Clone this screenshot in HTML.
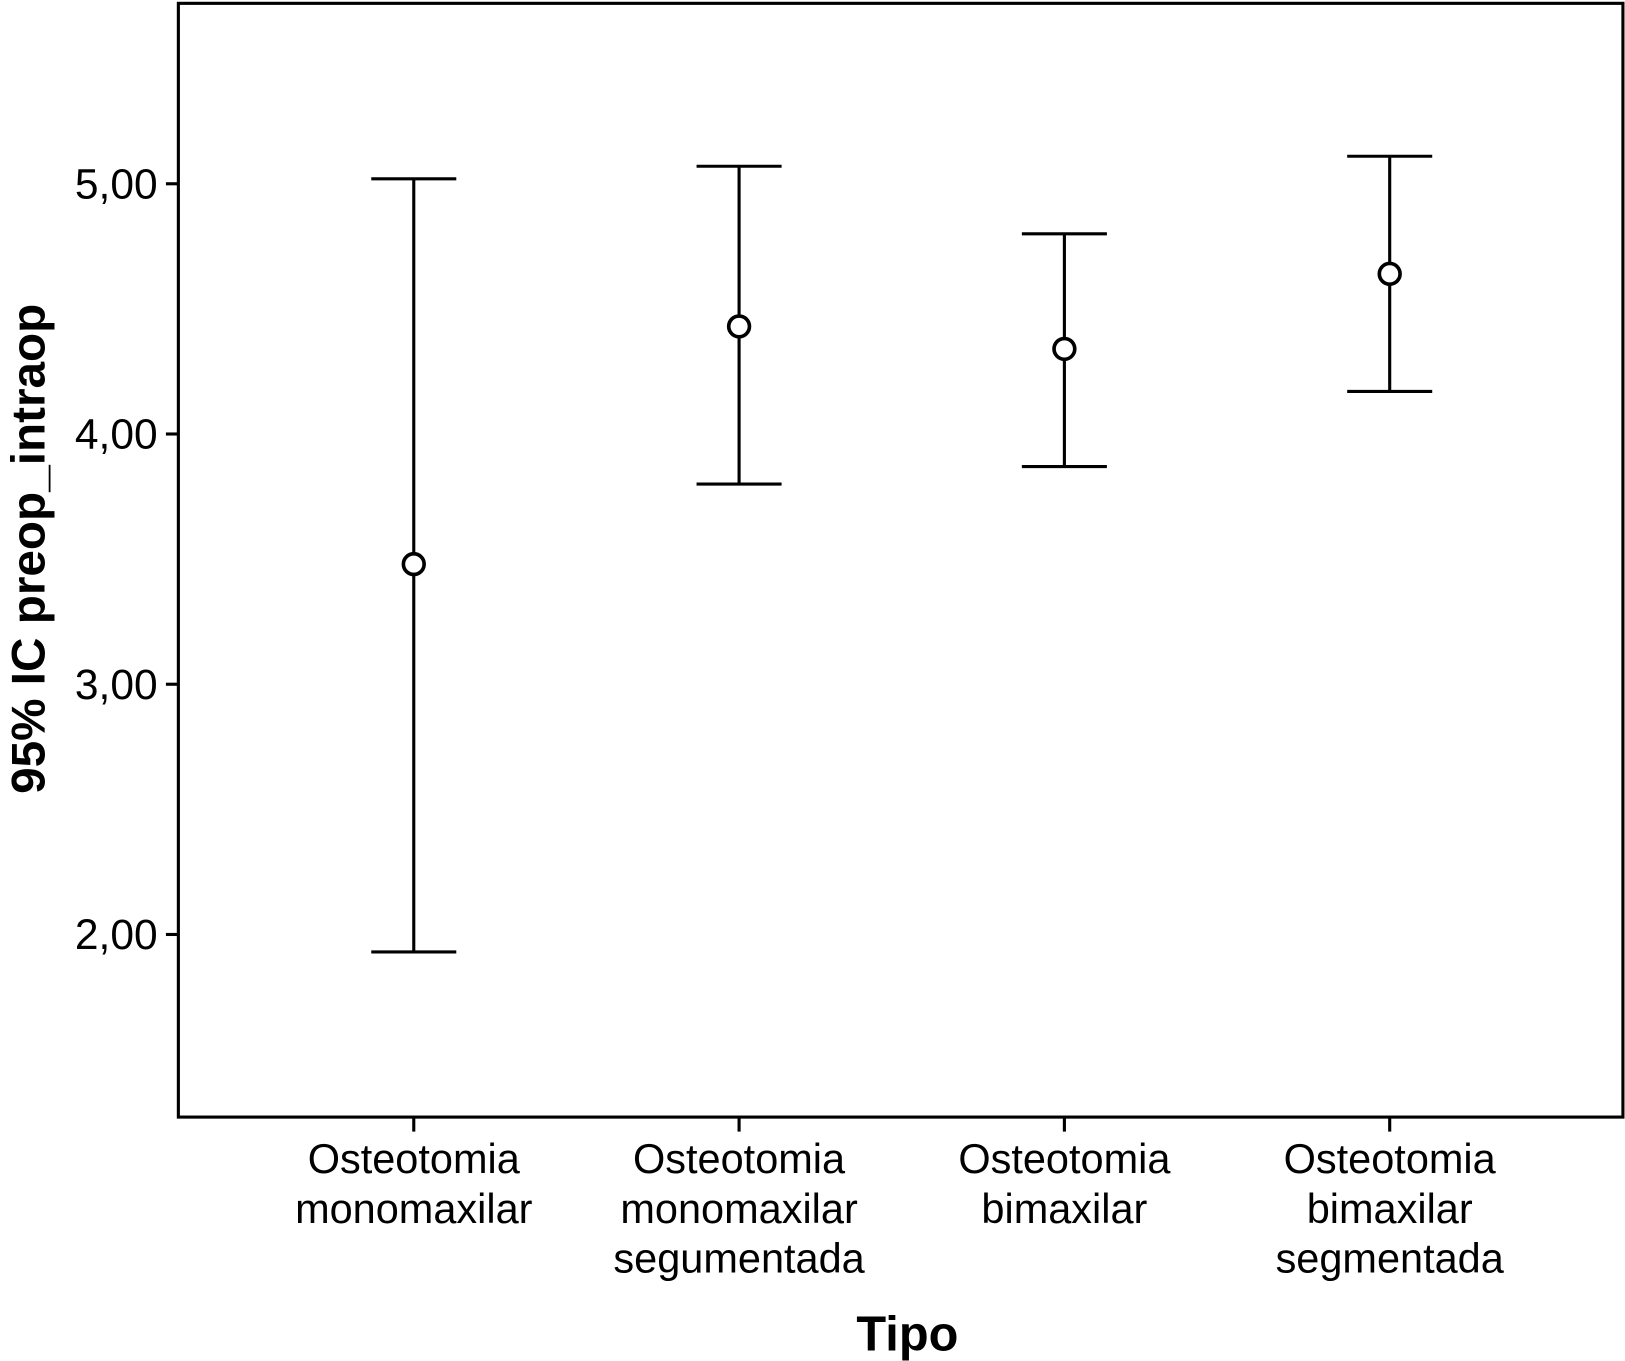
<!DOCTYPE html>
<html><head><meta charset="utf-8"><style>
html,body{margin:0;padding:0;background:#fff;}
svg{display:block;font-family:"Liberation Sans",Arial,sans-serif;}
</style></head><body>
<svg id="chart" width="1625" height="1361" viewBox="0 0 1567 1312" xmlns="http://www.w3.org/2000/svg">
<rect x="0" y="0" width="1567" height="1312" fill="#fff"/>
<rect x="172" y="3" width="1393" height="1074" fill="none" stroke="#000" stroke-width="3"/>
<g id="yticks"></g><g id="xticks"></g><g id="marks"></g>
<text x="875" y="1302" text-anchor="middle" font-size="47" font-weight="bold">Tipo</text>
<text transform="translate(43,529) rotate(-90)" text-anchor="middle" font-size="46" font-weight="bold">95% IC preop_intraop</text>
</svg>
<script>
const categories = [["Osteotomia","monomaxilar"],["Osteotomia","monomaxilar","segumentada"],["Osteotomia","bimaxilar"],["Osteotomia","bimaxilar","segmentada"]];
const means = [3.48, 4.43, 4.34, 4.64];
const lowers = [1.93, 3.80, 3.87, 4.17];
const uppers = [5.02, 5.07, 4.80, 5.11];
const yTicks = [2, 3, 4, 5];
const yTickLabels = ["2,00","3,00","4,00","5,00"];

const NS = "http://www.w3.org/2000/svg";
function y(v){ return 177 + (5 - v) * 241.3; }
function x(i){ return 399 + i * 313.7; }
function mk(tag, attrs, parent){ const e = document.createElementNS(NS, tag); for (const k in attrs) e.setAttribute(k, attrs[k]); parent.appendChild(e); return e; }

const yg = document.getElementById('yticks');
yTicks.forEach((v, i) => {
  const t = mk('line', {x1:160, x2:172, y1:y(v), y2:y(v), stroke:'#000', 'stroke-width':3}, yg);
  
  
  const l = mk('text', {x:152, y:y(v)+14, 'text-anchor':'end', 'font-size':41}, yg);
  l.textContent = yTickLabels[i];
  
  
});
const xg = document.getElementById('xticks');
categories.forEach((lines, i) => {
  const t = mk('line', {x1:x(i), x2:x(i), y1:1077, y2:1091, stroke:'#000', 'stroke-width':3}, xg);
  
  
  const l = mk('text', {x:x(i), y:1131, 'text-anchor':'middle', 'font-size':40}, xg);
  
  
  lines.forEach((s, j) => { const ts = mk('tspan', {x:x(i), dy: j ? 48 : 0}, l); ts.textContent = s; });
});
const mg = document.getElementById('marks');
means.forEach((m, i) => {
  const g = mk('g', {}, mg);
  
  
  const cx = x(i), st = {stroke:'#000', 'stroke-width':3, fill:'none'};
  mk('line', Object.assign({x1:cx, x2:cx, y1:y(uppers[i]), y2:y(lowers[i])}, st), g);
  mk('line', Object.assign({x1:cx-41, x2:cx+41, y1:y(uppers[i]), y2:y(uppers[i])}, st), g);
  mk('line', Object.assign({x1:cx-41, x2:cx+41, y1:y(lowers[i]), y2:y(lowers[i])}, st), g);
  const c = mk('circle', {cx:cx, cy:y(m), r:10, fill:'#fff', stroke:'#000', 'stroke-width':3.5}, g);
  
  
});
</script>
</body></html>
